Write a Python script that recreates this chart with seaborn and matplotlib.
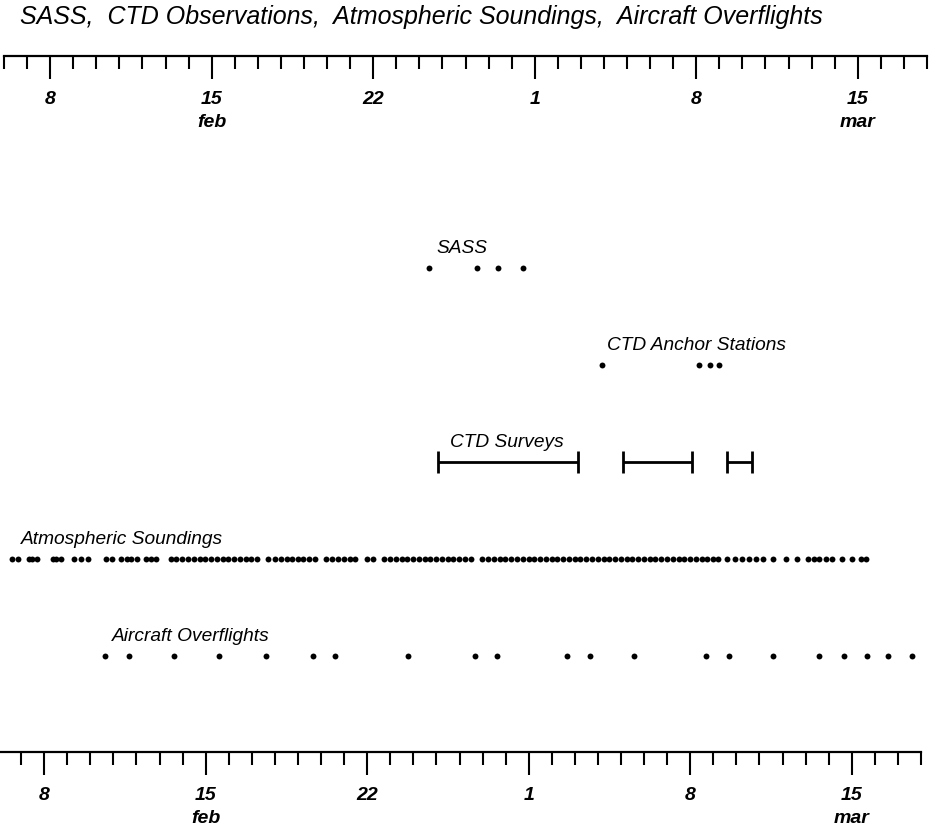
import matplotlib
matplotlib.use("Agg")
import matplotlib.pyplot as plt
import seaborn as sns
import pandas as pd

sns.set_style("white")
plt.rcParams['font.family'] = ['Liberation Sans', 'DejaVu Sans']
plt.rcParams['text.color'] = 'black'
plt.rcParams['xtick.color'] = 'black'
plt.rcParams['axes.edgecolor'] = 'black'

# days counted from 1 feb = 0  (so 8 feb = 7, 1 mar = 28, 15 mar = 42)
axis_start, axis_end = 5, 45
major_days = [7, 14, 21, 28, 35, 42]
major_labels = ["8", "15\nfeb", "22", "1", "8", "15\nmar"]

row_names = ["SASS", "CTD Anchor Stations", "CTD Surveys",
             "Atmospheric Soundings", "Aircraft Overflights"]

sass_days = [23.6, 25.65, 26.6, 27.65]
anchor_days = [31.1, 35.3, 35.75, 36.15]
survey_start = [24.0, 32.0, 36.5]
survey_end = [30.05, 35.0, 37.6]

sounding_days = [
    5.55, 5.8, 6.25, 6.4, 6.6, 7.3, 7.45, 7.65, 8.2, 8.5, 8.8,
    9.6, 9.85, 10.25, 10.5, 10.7, 10.95, 11.35, 11.55, 11.75,
    12.4, 12.65, 12.9, 13.15, 13.4, 13.65, 13.9, 14.15, 14.4, 14.65,
    14.9, 15.15, 15.4, 15.65, 15.9, 16.15,
    16.6, 16.9, 17.2, 17.45, 17.65, 17.9,
    18.15, 18.4, 18.65, 19.15, 19.4, 19.65, 19.9, 20.15, 20.4, 20.9,
    21.15, 21.65, 21.9, 22.15, 22.4, 22.65, 22.9, 23.15, 23.4, 23.65,
    23.9, 24.15, 24.4, 24.65, 24.9, 25.15, 25.4, 25.9, 26.15, 26.4,
    26.65, 26.9, 27.15, 27.4, 27.65, 27.9, 28.15, 28.4, 28.65, 28.9,
    29.15, 29.4, 29.65, 29.9, 30.15, 30.4, 30.65, 30.9, 31.15, 31.4,
    31.65, 31.9, 32.15, 32.4, 32.65, 32.9, 33.15, 33.4, 33.65, 33.9,
    34.15, 34.4, 34.65, 34.9, 35.15, 35.4, 35.65, 35.9, 36.1,
    36.5, 36.85, 37.15, 37.45, 37.75, 38.05, 38.5, 39.05, 39.55,
    40.0, 40.25, 40.5, 40.8, 41.05, 41.5, 41.9, 42.3, 42.5,
]

aircraft_days = [9.55, 10.6, 12.55, 14.5, 16.55, 18.55, 19.5, 22.7,
                 25.6, 26.55, 29.55, 30.55, 32.45, 35.6, 36.6, 38.5,
                 40.5, 41.55, 42.55, 43.45, 44.5]

# label anchor (day) for each row
label_days = [23.9, 31.3, 24.5, 5.9, 9.85]

W, H = 950, 829
fig = plt.figure(figsize=(W / 100, H / 100), dpi=100)


def ruler(left_px, base_px):
    ax = fig.add_axes([left_px / W, 1 - base_px / H, 923 / W, 0.001])
    ax.set_xlim(axis_start, axis_end)
    ax.set_ylim(0, 1)
    for s in ["top", "left", "right"]:
        ax.spines[s].set_visible(False)
    ax.spines["bottom"].set_linewidth(1.6)
    ax.patch.set_visible(False)
    ax.set_yticks([])
    ax.set_xticks(major_days)
    ax.set_xticklabels(major_labels, fontsize=14, fontweight="bold",
                       style="italic", linespacing=1.45)
    ax.set_xticks(range(axis_start, axis_end + 1), minor=True)
    ax.tick_params(axis="x", which="major", direction="out", length=16.5,
                   width=1.5, pad=8, bottom=True)
    ax.tick_params(axis="x", which="minor", direction="out", length=9.5,
                   width=1.5, bottom=True)
    for t in ax.get_xticklabels():
        t.set_verticalalignment("top")
    return ax


ruler(4, 57)
ruler(-2, 753)

# data area between the two rulers
ax = fig.add_axes([-0.2 / W, 1 - 753 / H, 923.5 / W, (753 - 57) / H])
ax.set_xlim(axis_start, axis_end)
ax.set_ylim(4.99, -2.186)
ax.axis("off")

dots = pd.concat([
    pd.DataFrame({"day": sass_days, "row": 0}),
    pd.DataFrame({"day": anchor_days, "row": 1}),
    pd.DataFrame({"day": sounding_days, "row": 3}),
    pd.DataFrame({"day": aircraft_days, "row": 4}),
], ignore_index=True)
sns.scatterplot(data=dots, x="day", y="row", ax=ax, color="black",
                s=18, linewidth=0, legend=False)

surveys = pd.DataFrame({"start": survey_start, "end": survey_end})
surveys["mid"] = (surveys["start"] + surveys["end"]) / 2
surveys["half"] = (surveys["end"] - surveys["start"]) / 2
ax.errorbar(surveys["mid"], [2] * len(surveys), xerr=surveys["half"],
            fmt="none", ecolor="black", elinewidth=2, capsize=8,
            capthick=2)

for i, name in enumerate(row_names):
    ax.text(label_days[i], i - 0.21, name, fontsize=13.8, style="italic",
            ha="left", va="center")

fig.text(20 / W, 1 - 17 / H,
         "SASS,  CTD Observations,  Atmospheric Soundings,  Aircraft Overflights",
         fontsize=18, style="italic", ha="left", va="center")

fig.savefig("out.png", dpi=100, facecolor="white")
